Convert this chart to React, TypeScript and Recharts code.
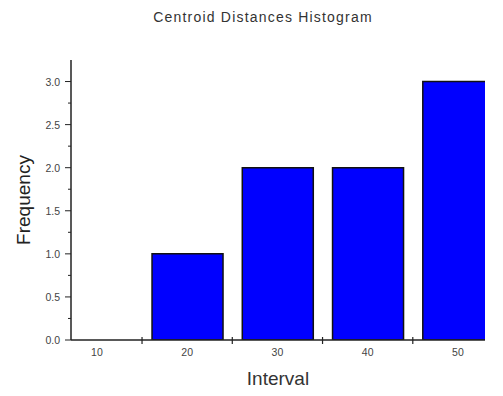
import { BarChart, Bar, XAxis, YAxis, Label } from "recharts";

const intervals = [10, 20, 30, 40, 50];
const frequency = [0, 1, 2, 2, 3];
const xLabelTicks = [10, 15, 20, 25, 30, 35, 40, 45, 50];
const yTicks = [0, 0.25, 0.5, 0.75, 1, 1.25, 1.5, 1.75, 2, 2.25, 2.5, 2.75, 3];

const data = intervals.map((v, i) => ({ interval: v, count: frequency[i] }));

const FONT = "Liberation Sans, Arial, sans-serif";

const XTick = (props: any) => {
  const { x, y, payload } = props;
  if (payload.value % 10 !== 0) {
    return <line x1={x} x2={x} y1={y - 3} y2={y + 4} stroke="#222" strokeWidth={1.2} />;
  }
  return (
    <text x={x} y={y + 16} textAnchor="middle" fontSize={10.5} fill="#444" fontFamily={FONT}>
      {payload.value}
    </text>
  );
};

const YTick = (props: any) => {
  const { x, y, payload } = props;
  const v = payload.value;
  const major = Math.abs(v * 2 - Math.round(v * 2)) < 1e-6;
  if (!major) {
    return <line x1={x - 3} x2={x} y1={y} y2={y} stroke="#222" strokeWidth={1} />;
  }
  return (
    <g>
      <line x1={x - 6} x2={x} y1={y} y2={y} stroke="#222" strokeWidth={1} />
      <text x={x - 11} y={y + 4} textAnchor="end" fontSize={10.5} fill="#444" fontFamily={FONT}>
        {v.toFixed(1)}
      </text>
    </g>
  );
};

export default function App() {
  return (
    <div style={{ position: "fixed", left: 0, top: 0, width: 503, height: 396, background: "#fff" }}>
      <div
        style={{
          position: "absolute",
          top: 9,
          left: 0,
          width: 526,
          textAlign: "center",
          fontFamily: FONT,
          fontSize: 14,
          letterSpacing: 1.2,
          color: "#333",
        }}
      >
        Centroid Distances Histogram
      </div>
      <BarChart width={503} height={396} data={data} margin={{ top: 60, right: 18, bottom: 0, left: 0 }}>
        <XAxis
          dataKey="interval"
          type="number"
          domain={[7.13, 53.0]}
          allowDataOverflow
          ticks={xLabelTicks}
          interval={0}
          tick={<XTick />}
          tickLine={false}
          tickSize={0}
          tickMargin={0}
          height={56}
          axisLine={{ stroke: "#222", strokeWidth: 1.5 }}
        >
          <Label value="Interval" position="insideBottom" offset={11} fontSize={19} fill="#333" fontFamily={FONT} />
        </XAxis>
        <YAxis
          type="number"
          domain={[0, 3.25]}
          ticks={yTicks}
          interval={0}
          allowDataOverflow
          tick={<YTick />}
          tickLine={false}
          tickSize={0}
          tickMargin={0}
          width={71}
          axisLine={{ stroke: "#222", strokeWidth: 1.5 }}
        >
          <Label value="Frequency" angle={-90} position="insideLeft" offset={23} fontSize={19} fill="#222" fontFamily={FONT} style={{ textAnchor: "middle" }} />
        </YAxis>
        <Bar dataKey="count" fill="#0000ff" stroke="#111" strokeWidth={1.5} barSize={71} isAnimationActive={false} />
      </BarChart>
    </div>
  );
}
